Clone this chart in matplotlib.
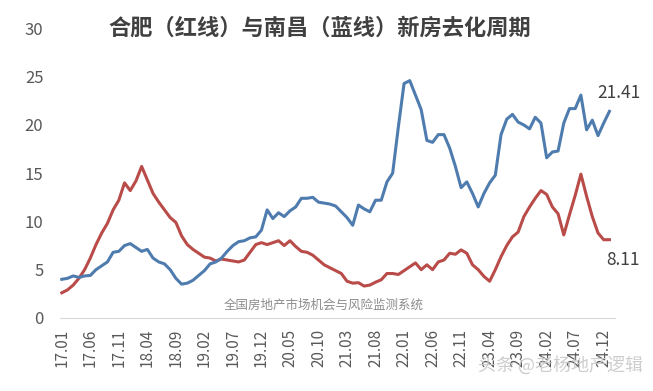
import matplotlib
matplotlib.use("Agg")
import matplotlib.pyplot as plt
import numpy as np

plt.rcParams['font.family'] = ['Noto Sans CJK SC', 'DejaVu Sans']

# monthly, 17.01 .. 25.01
hefei = [2.6, 2.9, 3.4, 4.1, 5.0, 6.2, 7.6, 8.8, 9.8, 11.2,
         12.2, 14.0, 13.2, 14.2, 15.7, 14.3, 12.9, 12.0, 11.2, 10.4,
         9.9, 8.5, 7.6, 7.1, 6.7, 6.3, 6.2, 5.9, 6.1, 6.0,
         5.9, 5.8, 6.0, 6.8, 7.6, 7.8, 7.6, 7.8, 8.0, 7.5,
         8.0, 7.4, 6.9, 6.8, 6.5, 6.0, 5.5, 5.2, 4.9, 4.6,
         3.8, 3.6, 3.65, 3.3, 3.4, 3.7, 3.95, 4.6, 4.6, 4.5,
         4.9, 5.3, 5.7, 5.0, 5.5, 5.0, 5.8, 6.0, 6.7, 6.6,
         7.05, 6.7, 5.5, 5.0, 4.3, 3.8, 5.0, 6.35, 7.5, 8.4,
         8.9, 10.5, 11.5, 12.4, 13.2, 12.8, 11.5, 10.8, 8.6, 10.7,
         12.7, 14.9, 12.6, 10.5, 8.8, 8.1, 8.11]
nanchang = [4.0, 4.1, 4.35, 4.2, 4.35, 4.4, 5.0, 5.4, 5.8, 6.8,
            6.9, 7.5, 7.7, 7.3, 6.9, 7.1, 6.2, 5.8, 5.6, 5.0,
            4.1, 3.5, 3.6, 3.9, 4.4, 4.9, 5.6, 5.8, 6.2, 6.9,
            7.5, 7.9, 8.0, 8.3, 8.4, 9.1, 11.2, 10.3, 10.9, 10.5,
            11.1, 11.5, 12.4, 12.4, 12.5, 12.0, 11.9, 11.8, 11.6, 11.0,
            10.4, 9.6, 11.7, 11.3, 11.0, 12.2, 12.2, 14.1, 15.0, 19.8,
            24.3, 24.6, 23.1, 21.6, 18.4, 18.2, 19.0, 19.0, 17.6, 15.7,
            13.5, 14.1, 12.9, 11.5, 12.9, 14.0, 14.8, 19.0, 20.6, 21.1,
            20.3, 20.0, 19.6, 20.8, 20.2, 16.6, 17.2, 17.3, 20.2, 21.7,
            21.7, 23.1, 19.5, 20.5, 18.9, 20.2, 21.41]

months = []
for i in range(len(hefei)):
    y = 17 + i // 12
    m = i % 12 + 1
    months.append(f"{y}.{m:02d}")

x = np.arange(len(hefei))

fig = plt.figure(figsize=(6.53, 3.91), dpi=100)
ax = fig.add_axes([0.092, 0.187, 0.85, 0.74])

ax.plot(x, hefei, color='#b94b49', lw=2.2)
ax.plot(x, nanchang, color='#4f7cae', lw=2.2)

ax.set_ylim(0, 30)
ax.set_xlim(-0.3, 97)
ax.set_yticks(range(0, 31, 5))
ax.set_xticks(x[::5])
ax.set_xticklabels(months[::5], rotation=90)
ax.tick_params(axis='y', length=0, labelsize=12, colors='#595959', pad=12)
ax.tick_params(axis='x', length=0, labelsize=11, colors='#595959', pad=8)

for s in ['top', 'right', 'left']:
    ax.spines[s].set_visible(False)
ax.spines['bottom'].set_color('#d9d9d9')

# end labels
ax.text(x[-1] - 2.2, nanchang[-1] + 1.9, f"{nanchang[-1]:.2f}", fontsize=12.5,
        color='#404040', ha='left', va='center', clip_on=False)
ax.text(x[-1] - 0.5, hefei[-1] - 2.1, f"{hefei[-1]:.2f}", fontsize=12.5,
        color='#404040', ha='left', va='center', clip_on=False)

fig.text(0.49, 0.928, "合肥（红线）与南昌（蓝线）新房去化周期", fontsize=16,
         fontweight='bold', color='#404040', ha='center', va='center')
ax.text(0.475, 0.045, "全国房地产市场机会与风险监测系统", transform=ax.transAxes,
        fontsize=9, color='#8c8c8c', ha='center', va='center')
fig.text(0.985, 0.065, "头条 @老杨地产逻辑", fontsize=13, color='#c8c8c8',
         ha='right', va='center', alpha=0.9)

fig.savefig("out.png", dpi=100)
